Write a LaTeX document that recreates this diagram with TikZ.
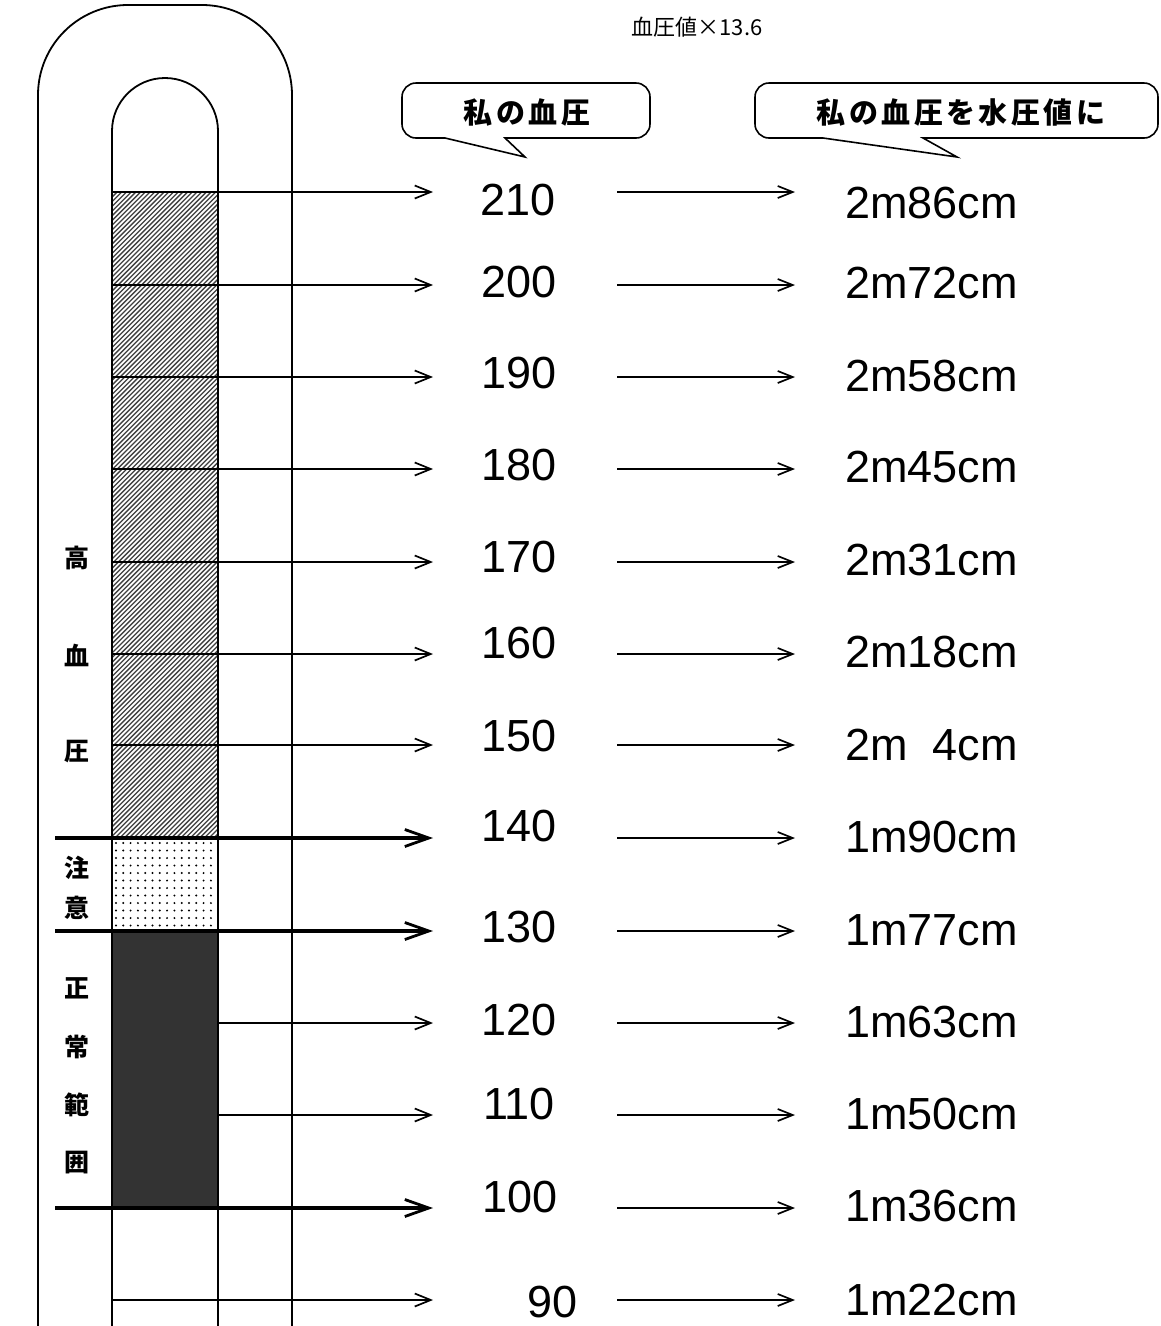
\documentclass[tikz,border=0pt]{standalone}
\usepackage{fontspec}
\setmainfont{Liberation Sans}
\newfontfamily\jpfont{Noto Sans CJK JP}
\usetikzlibrary{arrows.meta}
\definecolor{darkfill}{HTML}{333333}
\tikzset{
  tube/.style={line width=1.8pt},
  thinarr/.style={line width=1.7pt,-{Straight Barb[length=16pt,width=13pt,line width=1.7pt]}},
  thickarr/.style={line width=3.2pt,-{Straight Barb[length=24pt,width=17pt,line width=2.8pt]}},
  midarr/.style={line width=1.7pt,-{Straight Barb[length=15pt,width=12pt,line width=1.7pt]}},
  numtxt/.style={inner sep=0pt,font=\fontsize{45}{48}\selectfont},
  valtxt/.style={inner sep=0pt,anchor=west,font=\fontsize{45}{48}\selectfont},
  sidelbl/.style={inner sep=0pt,font=\jpfont\bfseries\fontsize{25}{27}\selectfont},
  bubble/.style={line width=1.6pt},
  bubtxt/.style={inner sep=0pt,font=\jpfont\bfseries\fontsize{29}{32}\selectfont\addfontfeatures{LetterSpace=12}},
  hatchline/.style={line width=1.3pt,black!75},
}
\begin{document}
\begin{tikzpicture}[x=1pt,y=-1pt]
\useasboundingbox (0,0) rectangle (1161,1326);
% fills
\begin{scope}
  \clip (112,192) rectangle (218,838);
  \fill[white] (112,192) rectangle (218,838);
  \foreach \k in {0,...,165} \draw[hatchline] ({-545+4.7*\k},840) -- ++(710,-710);
\end{scope}
\begin{scope}
  \clip (112,838) rectangle (218,931);
  \foreach \i in {0,...,14} \foreach \j in {0,...,12}
    \fill ({116+7.3*\i},{843+7.5*\j}) circle[radius=1.1];
\end{scope}
\fill[darkfill] (112,931) rectangle (218,1208);
% tubes
\draw[tube,rounded corners=90pt] (38,1326) -- (38,5) -- (292,5) -- (292,1326);
\draw[tube] (112,1326) -- (112,131) arc[start angle=180,end angle=360,radius=53] -- (218,1326);
% top label
\node[inner sep=0pt,font=\jpfont\fontsize{22}{24}\selectfont] (mult) at (697,27) {血圧値×13.6};
% bubbles
\draw[bubble] (445,138) -- (525,157) -- (505,138) [rounded corners=14pt] -- (650,138) -- (650,83) -- (402,83) -- (402,138) [sharp corners] -- cycle;
\node[bubtxt] (b1) at (527,112) {私の血圧};
\draw[bubble] (823,138) -- (957,157) -- (923,138) [rounded corners=14pt] -- (1158,138) -- (1158,83) -- (755,83) -- (755,138) [sharp corners] -- cycle;
\node[bubtxt] (b2) at (961,112) {私の血圧を水圧値に};
% rows
\foreach \nm/\ay/\sx/\sty/\nx/\ny/\vy/\val in {
  210/192/112/thinarr/518/200/203/2m86cm,
  200/285/112/thinarr/519/282/283/2m72cm,
  190/377/112/thinarr/519/373/376/2m58cm,
  180/469/112/thinarr/519/465/467/2m45cm,
  170/562/112/thinarr/519/557/560/2m31cm,
  160/654/112/thinarr/519/643/652/2m18cm,
  150/745/112/thinarr/519/736/745/{2m\phantom{0}4cm},
  140/838/55/thickarr/519/826/837/1m90cm,
  130/931/55/thickarr/519/927/930/1m77cm,
  120/1023/218/thinarr/519/1020/1022/1m63cm,
  110/1115/218/thinarr/519/1104/1114/1m50cm,
  100/1208/55/thickarr/520/1197/1206/1m36cm,
  90/1300/112/thinarr/553/1302/1300/1m22cm}{
  \coordinate (s\nm) at (\sx,\ay);
  \coordinate (e\nm) at (433,\ay);
  \draw[\sty] (s\nm) -- (e\nm);
  \node[numtxt] (n\nm) at (\nx,\ny) {\nm};
  \coordinate (ms\nm) at (617,\ay);
  \coordinate (me\nm) at (795,\ay);
  \draw[midarr] (ms\nm) -- (me\nm);
  \node[valtxt] (v\nm) at (845,\vy) {\val};
}
% side labels
\node[sidelbl] (l1) at (77,558) {高};
\node[sidelbl] (l2) at (77,655) {血};
\node[sidelbl] (l3) at (77,752) {圧};
\node[sidelbl] (l4) at (77,868) {注};
\node[sidelbl] (l5) at (77,908) {意};
\node[sidelbl] (l6) at (77,988) {正};
\node[sidelbl] (l7) at (77,1047) {常};
\node[sidelbl] (l8) at (77,1105) {範};
\node[sidelbl] (l9) at (77,1163) {囲};
\end{tikzpicture}
\end{document}
